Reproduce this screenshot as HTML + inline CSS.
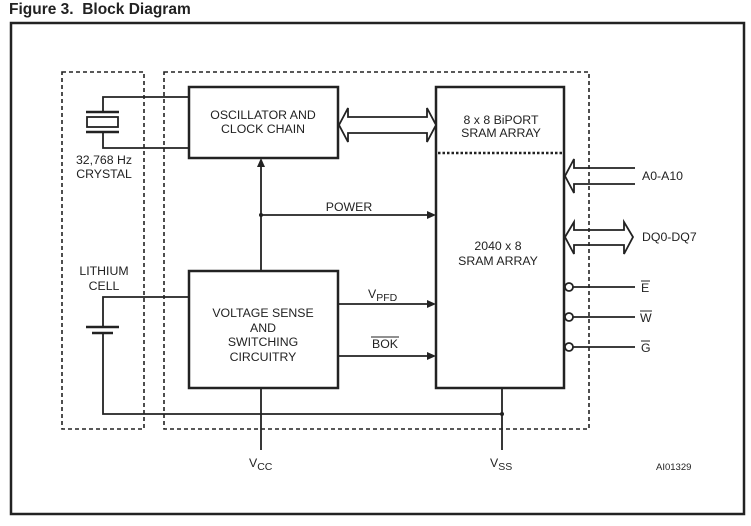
<!DOCTYPE html>
<html><head><style>
body{margin:0;background:#fff;width:751px;height:521px;overflow:hidden}
svg text{font-family:"Liberation Sans",sans-serif;fill:#222}
</style></head><body>
<svg width="751" height="521" viewBox="0 0 751 521" xmlns="http://www.w3.org/2000/svg">
<text x="9" y="14" font-size="15.5" font-weight="bold">Figure 3.&#160; Block Diagram</text>
<rect x="11" y="23" width="733" height="491" fill="none" stroke="#222" stroke-width="2.5"/>
<g fill="none" stroke="#222" stroke-width="1.6" stroke-dasharray="4,3">
<rect x="62" y="72" width="82" height="357"/>
<rect x="164" y="72" width="425" height="357"/>
</g>
<g fill="none" stroke="#222" stroke-width="2.5">
<rect x="189" y="87" width="149" height="71"/>
<rect x="189" y="271" width="149" height="117"/>
<rect x="436" y="87" width="128" height="301"/>
</g>
<line x1="438" y1="153" x2="562" y2="153" stroke="#222" stroke-width="2.5" stroke-dasharray="2.5,2"/>
<g fill="none" stroke="#222" stroke-width="1.8">
<polyline points="189,97 103,97 103,112"/>
<polyline points="189,148 103,148 103,132"/>
<rect x="87" y="117" width="31" height="10"/>
<polyline points="189,297 103,297 103,327"/>
<polyline points="103,333 103,414 503,414"/>
<line x1="261" y1="271" x2="261" y2="165"/>
<line x1="261" y1="388" x2="261" y2="450"/>
<line x1="502" y1="388" x2="502" y2="450"/>
<line x1="261" y1="215" x2="428" y2="215"/>
<line x1="338" y1="304" x2="428" y2="304"/>
<line x1="338" y1="356" x2="428" y2="356"/>
<line x1="573" y1="287" x2="635" y2="287"/>
<line x1="573" y1="317" x2="635" y2="317"/>
<line x1="573" y1="347" x2="635" y2="347"/>
<circle cx="569" cy="287" r="4" fill="#fff"/>
<circle cx="569" cy="317" r="4" fill="#fff"/>
<circle cx="569" cy="347" r="4" fill="#fff"/>
<polygon points="339,125 348,108 348,117 427,117 427,108 436,125 427,142 427,133 348,133 348,142" fill="#fff"/>
<polyline points="635,168 574,168 574,159 565,176 574,193 574,184 635,184"/>
<polygon points="565,237 574,222 574,230 624,230 624,222 633,237 624,254 624,245 574,245 574,254"/>
</g>
<g stroke="#222" stroke-width="2.5">
<line x1="86" y1="112" x2="119" y2="112"/>
<line x1="86" y1="132" x2="119" y2="132"/>
<line x1="86" y1="327" x2="119" y2="327"/>
<line x1="92" y1="333" x2="113" y2="333"/>
</g>
<g fill="#222">
<polygon points="261,158 257,167 265,167"/>
<polygon points="436,215 427,211 427,219"/>
<polygon points="436,304 427,300 427,308"/>
<polygon points="436,356 427,352 427,360"/>
<circle cx="261" cy="215" r="2"/>
<circle cx="502" cy="414" r="2"/>
</g>
<g font-size="12.3" text-anchor="middle">
<text x="263" y="119">OSCILLATOR AND</text>
<text x="263" y="133">CLOCK CHAIN</text>
<text x="263" y="317">VOLTAGE SENSE</text>
<text x="263" y="332">AND</text>
<text x="263" y="346">SWITCHING</text>
<text x="263" y="361">CIRCUITRY</text>
<text x="501" y="124">8 x 8 BiPORT</text>
<text x="501" y="137">SRAM ARRAY</text>
<text x="498" y="250">2040 x 8</text>
<text x="498" y="265">SRAM ARRAY</text>
<text x="104" y="164">32,768 Hz</text>
<text x="104" y="178">CRYSTAL</text>
<text x="104" y="275">LITHIUM</text>
<text x="104" y="290">CELL</text>
<text x="349" y="211">POWER</text>
<text x="385" y="348">BOK</text>
</g>
<line x1="371" y1="337" x2="399" y2="337" stroke="#222" stroke-width="1"/>
<g font-size="12.3">
<text x="368" y="298">V<tspan font-size="10.5" dy="3">PFD</tspan></text>
<text x="642" y="180">A0-A10</text>
<text x="642" y="241">DQ0-DQ7</text>
<text x="641" y="292">E</text>
<text x="640" y="322">W</text>
<text x="641" y="352">G</text>
<text x="249" y="467">V<tspan font-size="10.5" dy="3">CC</tspan></text>
<text x="490" y="467">V<tspan font-size="10.5" dy="3">SS</tspan></text>
<text x="656" y="470" font-size="9.5">AI01329</text>
</g>
<g stroke="#222" stroke-width="1">
<line x1="641" y1="281" x2="650" y2="281"/>
<line x1="640" y1="311" x2="652" y2="311"/>
<line x1="641" y1="341" x2="650" y2="341"/>
</g>
</svg>
</body></html>
